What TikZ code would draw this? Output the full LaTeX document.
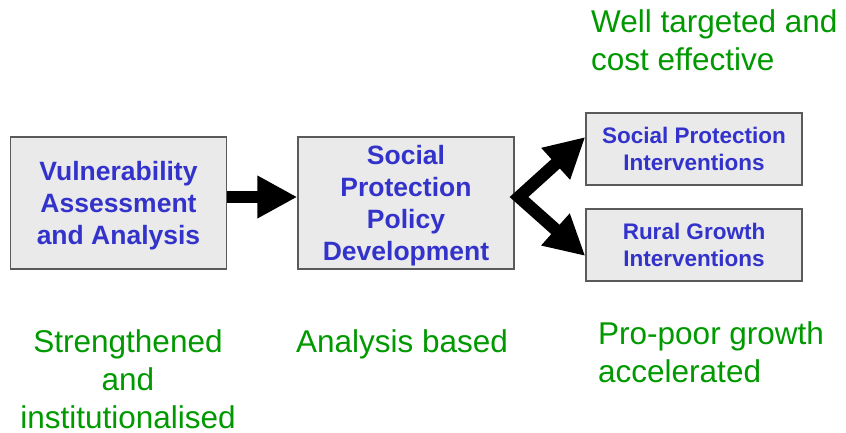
\documentclass[tikz,border=0pt]{standalone}
\usepackage{fontspec}
\setmainfont{Liberation Sans}
\usepackage{tikz}
\usetikzlibrary{arrows.meta}

\definecolor{boxblue}{RGB}{51,51,204}
\definecolor{notegreen}{RGB}{0,153,0}
\definecolor{boxfill}{RGB}{234,234,234}
\definecolor{boxline}{RGB}{90,90,90}

\begin{document}
\begin{tikzpicture}[x=1pt, y=-1pt,
    bigbox/.style={draw=boxline, line width=1.4pt, fill=boxfill, minimum width=216pt, minimum height=132pt, inner sep=0pt, align=center, text=boxblue, text depth=-3pt, font=\fontsize{26.5}{32}\selectfont\bfseries},
    smallbox/.style={bigbox, minimum height=72pt, text depth=-2pt, font=\fontsize{22.5}{27}\selectfont\bfseries},
    note/.style={text=notegreen, inner sep=0pt, font=\fontsize{31.5}{38}\selectfont},
    bigarrow/.style={line width=12.5pt, -{Triangle[length=40pt, width=40pt]}}]
        \useasboundingbox (0,0) rectangle (846,433);

        \node [bigbox] (vaa) at (118.5,203) {Vulnerability\\Assessment\\and Analysis};
        \node [bigbox] (spp) at (406,203) {Social\\Protection\\Policy\\Development};
        \node [smallbox] (spi) at (694,149) {Social Protection\\Interventions};
        \node [smallbox] (rgi) at (694,245) {Rural Growth\\Interventions};

        \node [note, anchor=north west, align=left] (welltarg) at (591,9) {Well targeted and\\cost effective};
        \node [note, anchor=north, align=center] (strength) at (128,329) {Strengthened\\and\\institutionalised};
        \node [note, anchor=north, align=center] (anbased) at (402,329) {Analysis based};
        \node [note, anchor=north west, align=left] (propoor) at (598,321) {Pro-poor growth\\accelerated};

        \coordinate (fork) at (519,197);
        \draw [bigarrow] ([yshift=6pt]vaa.east) -- ([yshift=6pt]spp.west);
        \draw [bigarrow, {Triangle[length=40pt, width=40pt]}-{Triangle[length=40pt, width=40pt]}, line join=miter]
            ([yshift=12pt]spi.west) -- (fork) -- ([yshift=-11pt]rgi.west);
    \end{tikzpicture}
\end{document}
